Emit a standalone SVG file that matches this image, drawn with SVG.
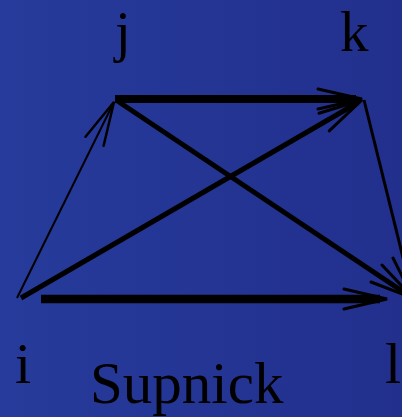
<svg xmlns="http://www.w3.org/2000/svg" width="402" height="417" viewBox="0 0 402 417">
<defs>
<linearGradient id="bg" x1="0" y1="0" x2="1" y2="0">
<stop offset="0" stop-color="#263b9b"/>
<stop offset="1" stop-color="#222f8d"/>
</linearGradient>
</defs>
<style>
.lbl{font-family:"Liberation Serif","Times New Roman",serif;font-size:58px;fill:#000}
.e{stroke:#000;fill:none;stroke-linecap:butt}
.ah{stroke:#000;fill:none;stroke-linecap:round;stroke-linejoin:miter}
</style>
<rect width="402" height="417" fill="url(#bg)"/>
<g id="connectors">
<g id="e-jk"><line class="e" x1="115" y1="99" x2="356" y2="99" stroke-width="8"/><polyline class="ah" points="318,89 362,99 318,109" stroke-width="3"/></g>
<g id="e-ij"><line class="e" x1="17" y1="298" x2="114" y2="102" stroke-width="2"/><polyline class="ah" points="85.5,136.8 114,102 103.6,145.8" stroke-width="2.5"/></g>
<g id="e-ik"><line class="e" x1="21" y1="298" x2="358" y2="102.5" stroke-width="5"/><polyline class="ah" points="319,113.3 362,100 329.2,130.8" stroke-width="3"/></g>
<g id="e-jl"><line class="e" x1="116" y1="100" x2="408" y2="295" stroke-width="5"/><polyline class="ah" points="371,282 413,298 382,265" stroke-width="3"/></g>
<g id="e-kl"><line class="e" x1="364" y1="100" x2="412" y2="294" stroke-width="3"/><polyline class="ah" points="393,258 413,298 412,253" stroke-width="3"/></g>
<g id="e-il"><line class="e" x1="41" y1="299" x2="380" y2="299" stroke-width="8.5"/><polyline class="ah" points="344,289 387,299 344,309" stroke-width="3"/></g>
</g>
<g id="node-j"><text class="lbl" x="115" y="51" style="font-size:57px">j</text></g>
<g id="node-k"><text class="lbl" x="340" y="51" style="font-size:57px">k</text></g>
<g id="node-i"><text class="lbl" x="15" y="383">i</text></g>
<g id="node-l"><text class="lbl" x="385" y="383">l</text></g>
<g id="title"><text class="lbl" x="90" y="403" style="font-size:59px">Supnick</text></g>
</svg>
